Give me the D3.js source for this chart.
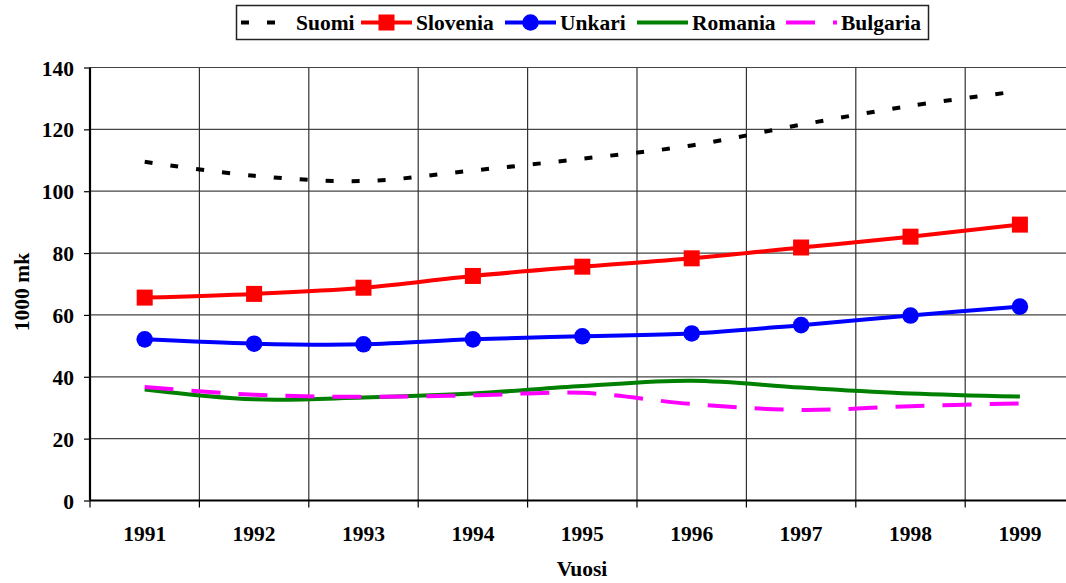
<!DOCTYPE html>
<html><head><meta charset="utf-8">
<script src="https://cdn.jsdelivr.net/npm/d3@7"></script>
<style>body{margin:0;background:#fff}svg{display:block}</style>
</head><body><svg id="c" width="1066" height="583"></svg>
<script>
const years = ["1991","1992","1993","1994","1995","1996","1997","1998","1999"];
const yTicks = [0,20,40,60,80,100,120,140];
const suomi    = [109.5,105.0,103.3,106.7,110.5,114.8,121.5,127.6,132.4];
const slovenia = [65.6,66.8,68.8,72.6,75.6,78.3,81.8,85.3,89.2];
const unkari   = [52.1,50.7,50.5,52.1,53.1,54.0,56.7,59.8,62.7];
const romania  = [35.9,32.7,33.3,34.6,37.0,38.7,36.5,34.6,33.6];
const bulgaria = [36.7,34.2,33.5,34.0,34.8,31.2,29.3,30.5,31.4];
const seriesNames = ["Suomi","Slovenia","Unkari","Romania","Bulgaria"];

const series = [
  {name:seriesNames[0], values:suomi,    color:"#000000", dash:"8,18", marker:null},
  {name:seriesNames[1], values:slovenia, color:"#FF0000", dash:null, marker:"square"},
  {name:seriesNames[2], values:unkari,   color:"#0000FF", dash:null, marker:"circle"},
  {name:seriesNames[3], values:romania,  color:"#008000", dash:null, marker:null},
  {name:seriesNames[4], values:bulgaria, color:"#FF00FF", dash:"29,18", marker:null}
];

const FS = "21.5px";
const svg = d3.select("#c");
const L = 90, T = 67.5, B = 500.5, step = 109.4;
const x = d3.scaleBand().domain(years).range([L, L + step*years.length]).padding(0);
const y = d3.scaleLinear().domain([0,140]).range([B, T]);

// grid
const g = svg.append("g");
g.selectAll(".hg").data(yTicks.filter(d=>d>0)).join("line")
  .attr("x1",L).attr("x2",L+step*9).attr("y1",d=>y(d)).attr("y2",d=>y(d))
  .attr("stroke","#444").attr("stroke-width",1.2);
g.selectAll(".vg").data(years.slice(1)).join("line")
  .attr("x1",d=>x(d)).attr("x2",d=>x(d)).attr("y1",T).attr("y2",B)
  .attr("stroke","#333").attr("stroke-width",1.2);

// axes
const yAxis = svg.append("g").attr("transform",`translate(${L},0)`)
  .call(d3.axisLeft(y).tickValues(yTicks).tickSize(6).tickPadding(10));
yAxis.select(".domain").attr("stroke-width",2.2).attr("d",`M0,${T}V${B}`);
yAxis.selectAll(".tick line").attr("stroke-width",1.2);
yAxis.selectAll("text").attr("dy","0.35em");

const xAxis = svg.append("g").attr("transform",`translate(0,${B})`)
  .call(d3.axisBottom(x).tickSize(0).tickPadding(33));
xAxis.select(".domain").attr("stroke-width",2.2).attr("d",`M${L},0H${L+step*9}`);
xAxis.selectAll("text").attr("dy","0.35em");
svg.append("g").selectAll("line").data(years.concat(["end"])).join("line")
  .attr("x1",(d,i)=>L+i*step).attr("x2",(d,i)=>L+i*step)
  .attr("y1",B).attr("y2",B+7).attr("stroke","#000").attr("stroke-width",1.2);

// titles
svg.append("text").attr("x",582).attr("y",568).attr("dy","0.35em").attr("text-anchor","middle").text("Vuosi");
svg.append("text").attr("transform","translate(21,292) rotate(-90)").attr("dy","0.35em")
  .attr("text-anchor","middle").text("1000 mk");

// lines
const line = d3.line().x((d,i)=>x(years[i])+x.bandwidth()/2).y(d=>y(d)).curve(d3.curveCatmullRom.alpha(0));
series.forEach(s=>{
  svg.append("path").datum(s.values).attr("d",line).attr("fill","none")
    .attr("stroke",s.color).attr("stroke-width",4).attr("stroke-dasharray",s.dash)
    .attr("stroke-linejoin","round");
  if(s.marker==="square"){
    svg.append("g").selectAll("rect").data(s.values).join("rect")
      .attr("x",(d,i)=>x(years[i])+x.bandwidth()/2-8).attr("y",d=>y(d)-8)
      .attr("width",16).attr("height",16).attr("fill",s.color);
  } else if(s.marker==="circle"){
    svg.append("g").selectAll("circle").data(s.values).join("circle")
      .attr("cx",(d,i)=>x(years[i])+x.bandwidth()/2).attr("cy",d=>y(d))
      .attr("r",8.3).attr("fill",s.color);
  }
});

// legend
const leg = svg.append("g");
leg.append("rect").attr("x",236.5).attr("y",5.5).attr("width",692).attr("height",34)
  .attr("fill","#fff").attr("stroke","#222").attr("stroke-width",1.5);
const legX = [241,361,505,637,786];
series.forEach((s,i)=>{
  const x0 = legX[i], cy = 22.5;
  leg.append("line").attr("x1",x0).attr("x2",x0+51).attr("y1",cy).attr("y2",cy)
    .attr("stroke",s.color).attr("stroke-width",4).attr("stroke-dasharray",s.dash);
  if(s.marker==="square") leg.append("rect").attr("x",x0+25.5-8).attr("y",cy-8).attr("width",16).attr("height",16).attr("fill",s.color);
  if(s.marker==="circle") leg.append("circle").attr("cx",x0+25.5).attr("cy",cy).attr("r",8.3).attr("fill",s.color);
  leg.append("text").attr("x",x0+55).attr("y",cy).attr("dy","0.35em").text(s.name);
});

svg.selectAll("text").attr("font-family",null).attr("font-size",null)
  .style("font-family","\"Liberation Serif\"").style("font-weight","bold")
  .style("font-size",FS).style("fill","#000");
svg.selectAll("g").attr("font-family",null).attr("font-size",null);
</script></body></html>
